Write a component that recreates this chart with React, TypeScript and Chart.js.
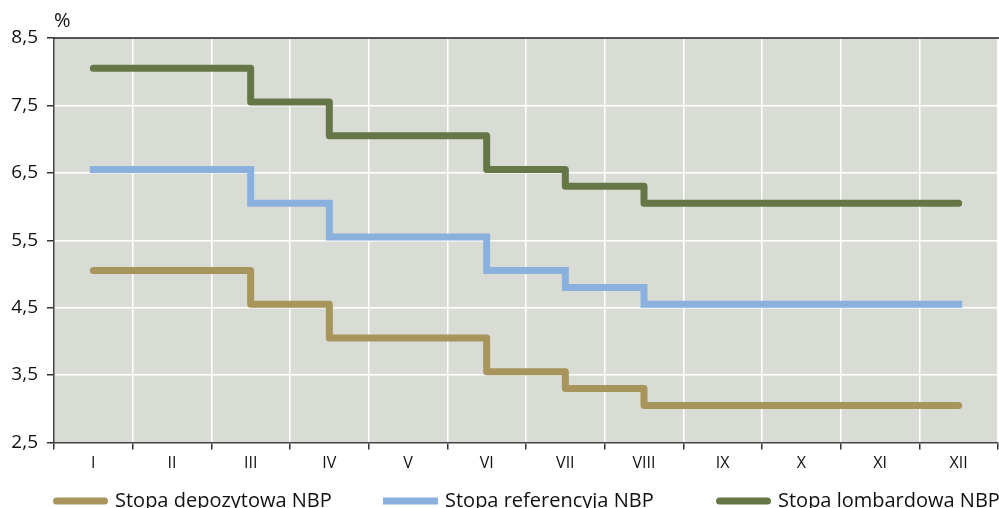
import React, { useEffect, useRef } from 'react';
import { Chart, registerables } from 'chart.js';

Chart.register(...registerables);

const months = ['I', 'II', 'III', 'IV', 'V', 'VI', 'VII', 'VIII', 'IX', 'X', 'XI', 'XII'];
const depositRate = [5.05, 5.05, 4.55, 4.05, 4.05, 3.55, 3.3, 3.05, 3.05, 3.05, 3.05, 3.05];
const referenceRate = [6.55, 6.55, 6.05, 5.55, 5.55, 5.05, 4.8, 4.55, 4.55, 4.55, 4.55, 4.55];
const lombardRate = [8.05, 8.05, 7.55, 7.05, 7.05, 6.55, 6.3, 6.05, 6.05, 6.05, 6.05, 6.05];
const yTickValues = [2.5, 3.5, 4.5, 5.5, 6.5, 7.5, 8.5];
const seriesNames = ['Stopa depozytowa NBP', 'Stopa referencyja NBP', 'Stopa lombardowa NBP'];
const unitLabel = '%';

const COLORS = ['#A8955C', '#8AB0DE', '#667747'];
const CAPS: CanvasLineCap[] = ['round', 'square', 'round'];
const JOINS: CanvasLineJoin[] = ['round', 'miter', 'round'];
const FONT = '"Open Sans", "DejaVu Sans", sans-serif';
const LEGEND_X = [53, 383, 716];

const decorPlugin = {
  id: 'decor',
  beforeDraw(chart: any) {
    const { ctx, chartArea } = chart;
    ctx.save();
    ctx.fillStyle = '#D8DCD5';
    ctx.fillRect(chartArea.left, chartArea.top, chartArea.right - chartArea.left, chartArea.bottom - chartArea.top);
    ctx.restore();
  },
  afterDraw(chart: any) {
    const { ctx, chartArea } = chart;
    ctx.save();
    // top border
    ctx.strokeStyle = '#222';
    ctx.lineWidth = 1.5;
    ctx.beginPath();
    ctx.moveTo(chartArea.left, chartArea.top);
    ctx.lineTo(chartArea.right + 1, chartArea.top);
    ctx.stroke();
    // unit label
    ctx.fillStyle = '#111';
    ctx.font = `20px ${FONT}`;
    ctx.textAlign = 'left';
    ctx.textBaseline = 'middle';
    ctx.fillText(unitLabel, 54, 21);
    // legend
    ctx.font = `20px ${FONT}`;
    ctx.textBaseline = 'alphabetic';
    seriesNames.forEach((name, i) => {
      const x = LEGEND_X[i];
      ctx.strokeStyle = COLORS[i];
      ctx.lineWidth = 7;
      ctx.lineCap = i === 1 ? 'butt' : 'round';
      ctx.beginPath();
      ctx.moveTo(x + (i === 1 ? 0 : 3.5), 501);
      ctx.lineTo(x + 55 - (i === 1 ? 0 : 3.5), 501);
      ctx.stroke();
      ctx.fillStyle = '#111';
      ctx.fillText(name, x + 62, 507);
    });
    ctx.restore();
  },
};

export default function App() {
  const ref = useRef<HTMLCanvasElement | null>(null);

  useEffect(() => {
    if (!ref.current) return;
    const series = [depositRate, referenceRate, lombardRate];
    const chart = new Chart(ref.current, {
      type: 'line',
      data: {
        labels: months,
        datasets: series.map((data, i) => ({
          label: seriesNames[i],
          data,
          borderColor: COLORS[i],
          backgroundColor: COLORS[i],
          borderWidth: 7,
          borderCapStyle: CAPS[i],
          borderJoinStyle: JOINS[i],
          pointRadius: 0,
          pointHoverRadius: 0,
          stepped: true,
          fill: false,
        })),
      },
      options: {
        responsive: false,
        animation: false,
        events: [],
        layout: { padding: { top: 38, left: 0, right: 1, bottom: 0 } },
        plugins: { legend: { display: false }, tooltip: { enabled: false } },
        scales: {
          x: {
            type: 'category',
            offset: true,
            grid: {
              offset: true,
              color: (c: any) => (c.index === 0 ? 'rgba(0,0,0,0)' : '#ffffff'),
              lineWidth: 1.5,
              tickColor: '#333',
              tickLength: 7,
              drawTicks: true,
            },
            border: { display: true, color: '#444', width: 1.5 },
            ticks: {
              color: '#111',
              font: { family: FONT, size: 16 },
              padding: 4,
              maxRotation: 0,
              autoSkip: false,
            },
            afterFit: (scale: any) => {
              scale.height = 65.5;
            },
          },
          y: {
            min: 2.5,
            max: 8.5,
            afterBuildTicks: (scale: any) => {
              scale.ticks = yTickValues.map((v) => ({ value: v }));
            },
            grid: {
              color: (c: any) =>
                c.tick && (c.tick.value === 2.5 || c.tick.value === 8.5) ? 'rgba(0,0,0,0)' : '#ffffff',
              lineWidth: 1.5,
              tickColor: '#333',
              tickLength: 7,
            },
            border: { display: true, color: '#444', width: 1.5 },
            ticks: {
              color: '#111',
              font: { family: FONT, size: 19 },
              padding: 9,
              callback: (v: any) => Number(v).toFixed(1).replace('.', ','),
            },
            afterFit: (scale: any) => {
              scale.width = 54;
            },
          },
        },
      },
      plugins: [decorPlugin],
    });
    return () => chart.destroy();
  }, []);

  return (
    <div style={{ position: 'fixed', left: 0, top: 0, width: 999, height: 508, background: '#fff' }}>
      <canvas ref={ref} width={999} height={508} style={{ display: 'block', width: 999, height: 508 }} />
    </div>
  );
}
